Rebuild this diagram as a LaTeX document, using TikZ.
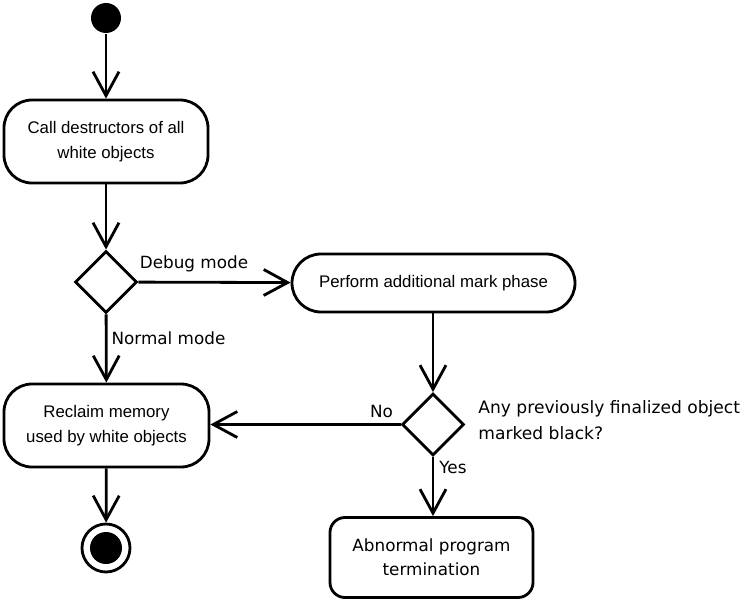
\documentclass[tikz,border=0pt]{standalone}
\usepackage{fontspec}
\setmainfont{Liberation Sans}
\newfontfamily\dv{DejaVu Sans}
\usetikzlibrary{shapes.geometric,arrows.meta}
\begin{document}
\begin{tikzpicture}[x=1pt,y=-1pt,
  line width=2.8pt,
  >={Straight Barb[length=24pt,width=26pt,line width=2.8pt]},
  act/.style={draw,rounded corners=#1,align=center,inner sep=0pt,
    font=\fontsize{16.8}{25}\selectfont},
  dec/.style={draw,diamond,aspect=1,minimum width=62pt,minimum height=62pt,inner sep=0pt},
  lab/.style={font=\dv\fontsize{16.8}{26}\selectfont,inner sep=0pt}]
\useasboundingbox (0,0) rectangle (742,599);
\node[circle,fill,minimum size=30pt,inner sep=0pt] (start) at (106,18) {};
\node[act=28pt,minimum width=204pt,minimum height=83pt] (b1) at (106,141.5) {Call destructors of all\\white objects};
\node[dec] (d1) at (106,282) {};
\node[act=29pt,minimum width=283pt,minimum height=58pt] (b2) at (433.5,283) {Perform additional mark phase};
\node[act=28pt,minimum width=205pt,minimum height=83pt] (b3) at (106.5,425.5) {Reclaim memory\\used by white objects};
\node[circle,draw,minimum size=48pt,inner sep=0pt] (end) at (106,548) {};
\node[circle,fill,minimum size=32pt,inner sep=0pt] (endin) at (106,548) {};
\node[dec] (d2) at (433,424.5) {};
\node[act=15pt,minimum width=203pt,minimum height=80pt,font=\dv\fontsize{16.8}{24}\selectfont] (b4) at (431.5,557.5) {Abnormal program\\termination};
\node[lab] (ldebug) at (194,264) {Debug mode};
\node[lab] (lnormal) at (168.5,338) {Normal mode};
\node[lab] (lno) at (381.5,411) {No};
\node[lab,anchor=west] (lyes) at (438,467) {Yes};
\node[lab,anchor=west,align=left,font=\dv\fontsize{17.1}{26}\selectfont] (lq) at (477,420) {Any previously finalized object\\marked black?};
\draw[->] (start) -- (b1);
\draw[->] (b1) -- (d1);
\draw[->] (d1) -- (b2);
\draw[->] (d1) -- (b3);
\draw[->] (b3) -- (end);
\draw[->] (b2.south -| d2) -- (d2);
\draw[->] (d2) -- (b3.east |- d2);
\draw[->] (d2) -- (d2 |- b4.north);
\end{tikzpicture}
\end{document}
